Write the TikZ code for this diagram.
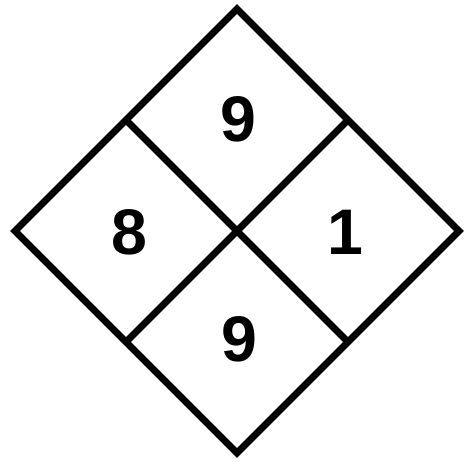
\documentclass[tikz,border=0pt]{standalone}
\usepackage{fontspec}
\setmainfont{Liberation Sans}
\usepackage{tikz}
\usetikzlibrary{calc}

\tikzset{
  rim/.style={line width=0.21cm, black},
  digit/.style={font=\fontsize{55}{55}\bfseries\selectfont, inner sep=0pt}
}

\begin{document}
\begin{tikzpicture}[x=0.03cm, y=-0.03cm]
\useasboundingbox (0,0) rectangle (464,464);
% corners:
\coordinate (top) at (237,9);
\coordinate (lft) at (15,231);
\coordinate (rgt) at (459,231);
\coordinate (bot) at (237,453);
% outer diamond:
\draw[rim] (top) -- (rgt) -- (bot) -- (lft) -- cycle;
% inner cross:
\draw[rim] ($(top)!0.5!(lft)$) -- ($(rgt)!0.5!(bot)$);
\draw[rim] ($(top)!0.5!(rgt)$) -- ($(lft)!0.5!(bot)$);
% numbers:
\node[digit] (fire) at (238,119) {9};
\node[digit] (health) at (129,232) {8};
\node[digit] (react) at (345,232) {1};
\node[digit] (special) at (239,339) {9};
\end{tikzpicture}
\end{document}
